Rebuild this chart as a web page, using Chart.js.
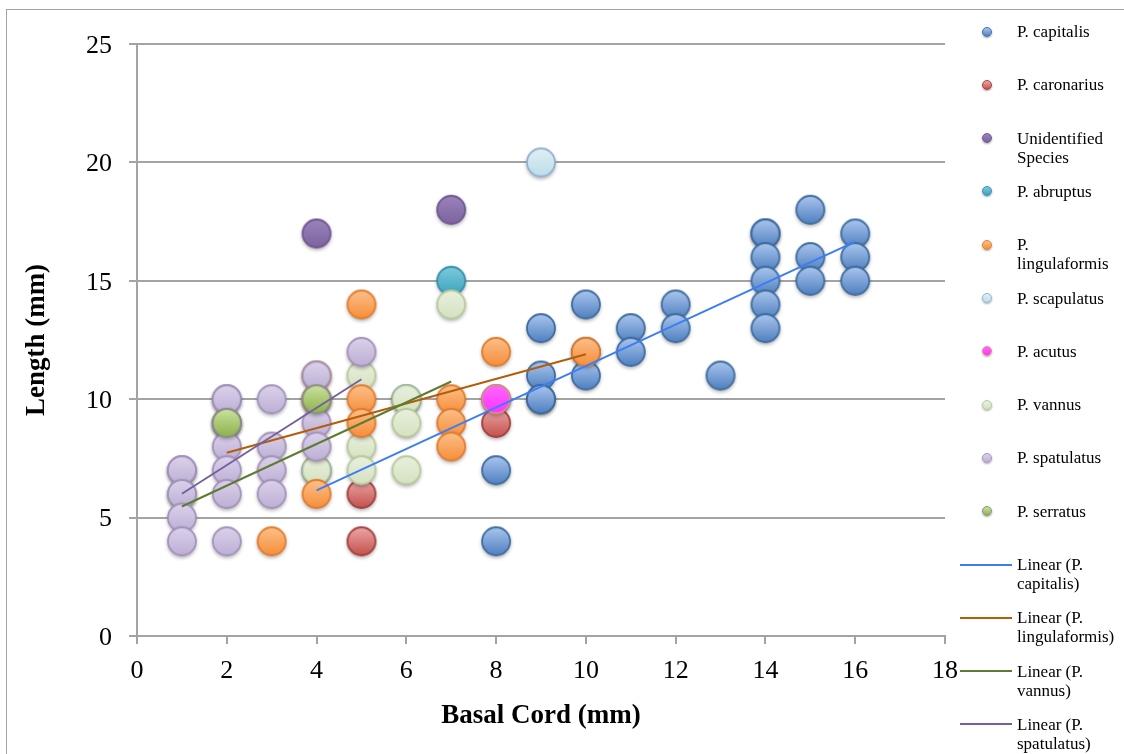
<!DOCTYPE html>
<html>
<head>
<meta charset="utf-8">
<script src="https://cdn.jsdelivr.net/npm/chart.js@4.4.0/dist/chart.umd.min.js"></script>
<style>
  html, body { margin: 0; padding: 0; background: #fff; }
  #wrap { position: relative; width: 1124px; height: 754px; overflow: hidden; background: #fff; }
  #frame { position: absolute; left: 6px; top: 9px; width: 1300px; height: 900px;
           border-top: 1.5px solid #a3a3a3; border-left: 1.5px solid #a3a3a3; }
  #chart { position: absolute; left: 0; top: 0; }
  #legend { position: absolute; left: 0; top: 0; width: 1124px; height: 754px;
            font-family: "Liberation Serif", "Times New Roman", serif; font-size: 17px; color: #000; }
  .lg-text { position: absolute; left: 1017px; line-height: 19px; white-space: nowrap; }
  .lg-dot { position: absolute; width: 10px; height: 10px; border-radius: 50%;
            box-shadow: 0 1px 2px rgba(0,0,0,0.35); }
  .lg-line { position: absolute; left: 960px; width: 52px; height: 2px; }
</style>
</head>
<body>
<div id="wrap">
  <div id="frame"></div>
  <canvas id="chart" width="1124" height="754"></canvas>
  <div id="legend"></div>
</div>
<script>
// Basal cord (x) vs length (y), in mm, one array of [x, y] pairs per species
const capitalis = [[4,7],[6,10],[8,10],[8,7],[8,4],[9,13],[9,11],[9,10],[9,10],[10,14],[10,12],[10,11],
  [11,13],[11,12],[12,14],[12,13],[13,11],[14,17],[14,17],[14,16],[14,15],[14,14],[14,13],
  [15,18],[15,16],[15,15],[16,17],[16,16],[16,15]];
const caronarius = [[5,6],[5,4],[8,9]];
const unidentified = [[4,17],[7,18]];
const abruptus = [[7,15]];
const lingulaformis = [[2,9],[3,4],[4,11],[4,10],[4,6],[5,14],[5,10],[5,9],[7,10],[7,9],[7,8],[8,12],[10,12]];
const scapulatus = [[9,20]];
const acutus = [[8,10]];
const vannus = [[1,6],[4,7],[4,10],[5,11],[5,8],[5,7],[6,10],[6,9],[6,7],[7,14]];
const spatulatus = [[1,7],[1,7],[1,6],[1,5],[1,4],[2,10],[2,10],[2,9],[2,8],[2,7],[2,6],[2,4],
  [3,10],[3,8],[3,7],[3,6],[4,11],[4,9],[4,8],[5,12]];
const serratus = [[2,9],[4,10]];

const xTicks = { min: 0, max: 18, step: 2 };
const yTicks = { min: 0, max: 25, step: 5 };

// marker colours: gradient top, gradient bottom, rim
const species = [
  { key: 'capitalis',    label: 'P. capitalis',             pts: capitalis,    top: '#aac6ee', bottom: '#4f80c0', rim: '#3e6c9f' },
  { key: 'caronarius',   label: 'P. caronarius',            pts: caronarius,   top: '#eba7a5', bottom: '#c4514e', rim: '#a23f3c' },
  { key: 'unidentified', label: ['Unidentified', 'Species'],pts: unidentified, top: '#9a84bb', bottom: '#7d63a0', rim: '#6e5690' },
  { key: 'abruptus',     label: 'P. abruptus',              pts: abruptus,     top: '#7dcadb', bottom: '#3ba4bf', rim: '#3590a8' },
  { key: 'lingulaformis',label: ['P.', 'lingulaformis'],    pts: lingulaformis,top: '#fcc08a', bottom: '#f68e3a', rim: '#e27c2c' },
  { key: 'scapulatus',   label: 'P. scapulatus',            pts: scapulatus,   top: '#dff0f5', bottom: '#bcdde8', rim: '#96b0d2' },
  { key: 'acutus',       label: 'P. acutus',                pts: acutus,       top: '#ff66ff', bottom: '#ff33ff', rim: '#e38b86' },
  { key: 'vannus',       label: 'P. vannus',                pts: vannus,       top: '#e9f0de', bottom: '#d5e2c0', rim: '#b6ca9b' },
  { key: 'spatulatus',   label: 'P. spatulatus',            pts: spatulatus,   top: '#dbd2ea', bottom: '#bdafd5', rim: '#a392bb' },
  { key: 'serratus',     label: 'P. serratus',              pts: serratus,     top: '#cbe29e', bottom: '#8db24a', rim: '#8a8f88' }
];
// stacking of the markers, bottom first
const drawOrder = ['capitalis','caronarius','unidentified','abruptus','vannus','lingulaformis','scapulatus','acutus','spatulatus','serratus'];

const trends = [
  { of: 'capitalis',     label: ['Linear (P.', 'capitalis)'],     color: '#3b7ef4' },
  { of: 'lingulaformis', label: ['Linear (P.', 'lingulaformis)'], color: '#b35d08' },
  { of: 'vannus',        label: ['Linear (P.', 'vannus)'],        color: '#5e7b33' },
  { of: 'spatulatus',    label: ['Linear (P.', 'spatulatus)'],    color: '#75609c' }
];

function markerImage(s, r) {
  const size = Math.ceil(r + 6) * 2;
  const cv = document.createElement('canvas');
  cv.width = size; cv.height = size;
  const g = cv.getContext('2d');
  const c = size / 2;
  g.save();
  g.shadowColor = 'rgba(0,0,0,0.4)';
  g.shadowBlur = 4;
  g.shadowOffsetY = 2;
  g.beginPath(); g.arc(c, c, r, 0, Math.PI * 2);
  g.fillStyle = s.bottom; g.fill();
  g.restore();
  const grad = g.createLinearGradient(0, c - r, 0, c + r);
  grad.addColorStop(0, s.top);
  grad.addColorStop(1, s.bottom);
  g.beginPath(); g.arc(c, c, r, 0, Math.PI * 2);
  g.fillStyle = grad; g.fill();
  g.lineWidth = 1.8; g.strokeStyle = s.rim; g.stroke();
  return cv;
}

// least-squares line over the x range of a series
function linearFit(pts) {
  const n = pts.length;
  let sx = 0, sy = 0, sxx = 0, sxy = 0;
  for (const [x, y] of pts) { sx += x; sy += y; sxx += x * x; sxy += x * y; }
  const m = (n * sxy - sx * sy) / (n * sxx - sx * sx);
  const b = (sy - m * sx) / n;
  const xs = pts.map(p => p[0]);
  const x0 = Math.min(...xs), x1 = Math.max(...xs);
  return [{ x: x0, y: m * x0 + b }, { x: x1, y: m * x1 + b }];
}

const byKey = Object.fromEntries(species.map(s => [s.key, s]));
const datasets = [];
drawOrder.forEach((k, i) => {
  const s = byKey[k];
  datasets.push({
    label: Array.isArray(s.label) ? s.label.join(' ') : s.label,
    data: s.pts.map(([x, y]) => ({ x, y })),
    pointStyle: markerImage(s, 14),
    pointRadius: 14,
    showLine: false,
    order: 100 - i
  });
});
trends.forEach((t, i) => {
  datasets.push({
    label: t.label.join(' '),
    data: linearFit(byKey[t.of].pts),
    showLine: true,
    borderColor: t.color,
    borderWidth: 2,
    pointRadius: 0,
    fill: false,
    order: 10 - i
  });
});

const tickFont = { family: 'Liberation Serif', size: 26 };
const titleFont = { family: 'Liberation Serif', size: 27, weight: 'bold' };
const gridColor = '#a3a3a3';

new Chart(document.getElementById('chart'), {
  type: 'scatter',
  data: { datasets },
  options: {
    responsive: false,
    animation: false,
    events: [],
    layout: { padding: { left: 17, top: 44, right: 179, bottom: 18 } },
    plugins: { legend: { display: false }, tooltip: { enabled: false } },
    scales: {
      x: {
        type: 'linear', min: xTicks.min, max: xTicks.max,
        ticks: { stepSize: xTicks.step, font: tickFont, color: '#000', padding: 12 },
        grid: { drawOnChartArea: false, drawTicks: true, tickLength: 8, color: gridColor, lineWidth: 2 },
        border: { color: gridColor, width: 2 },
        title: { display: true, text: 'Basal Cord (mm)', font: titleFont, color: '#000', padding: { top: 4, bottom: 4 } },
        afterFit(s) { s.height = 100; }
      },
      y: {
        type: 'linear', min: yTicks.min, max: yTicks.max,
        ticks: { stepSize: yTicks.step, font: tickFont, color: '#000', padding: 17, labelOffset: 2 },
        grid: { color: gridColor, lineWidth: 2, tickLength: 8 },
        border: { color: gridColor, width: 2 },
        title: { display: true, text: 'Length (mm)', font: titleFont, color: '#000', padding: { top: 4, bottom: 4 } },
        afterFit(s) { s.width = 120; }
      }
    }
  }
});

// legend column on the right
const legend = document.getElementById('legend');
const legendItems = species.map(s => ({ kind: 'dot', s, label: s.label }))
  .concat(trends.map(t => ({ kind: 'line', t, label: t.label })));
legendItems.forEach((it, i) => {
  const cy = 31.5 + i * 53.3;
  if (it.kind === 'dot') {
    const d = document.createElement('div');
    d.className = 'lg-dot';
    d.style.left = (986.5 - 5) + 'px';
    d.style.top = (cy - 5) + 'px';
    d.style.background = 'linear-gradient(' + it.s.top + ',' + it.s.bottom + ')';
    d.style.border = '1px solid ' + it.s.rim;
    d.style.boxSizing = 'border-box';
    legend.appendChild(d);
  } else {
    const l = document.createElement('div');
    l.className = 'lg-line';
    l.style.top = (cy - 1) + 'px';
    l.style.background = it.t.color;
    legend.appendChild(l);
  }
  const tx = document.createElement('div');
  tx.className = 'lg-text';
  tx.style.top = (cy - 9.5) + 'px';
  const lines = Array.isArray(it.label) ? it.label : [it.label];
  tx.innerHTML = lines.map(t => t.replace(/&/g, '&amp;').replace(/</g, '&lt;')).join('<br>');
  legend.appendChild(tx);
});
</script>
</body>
</html>
